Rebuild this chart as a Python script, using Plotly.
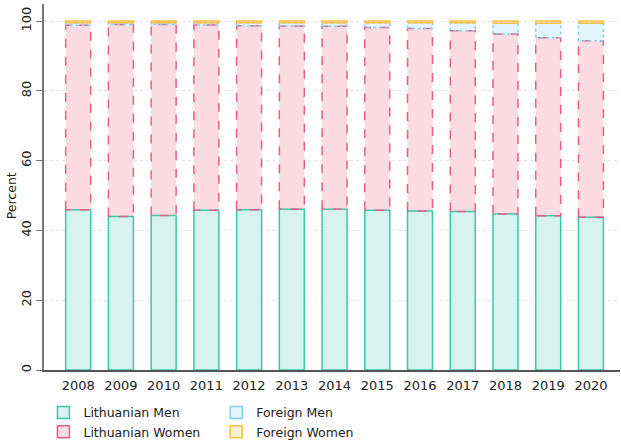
import plotly.graph_objects as go
import numpy as np

years = [2008, 2009, 2010, 2011, 2012, 2013, 2014, 2015, 2016, 2017, 2018, 2019, 2020]
lt_men = [45.9, 44.0, 44.3, 45.8, 45.9, 46.1, 46.1, 45.8, 45.6, 45.4, 44.7, 44.2, 43.8]
lt_women = [52.9, 55.0, 54.7, 53.1, 52.8, 52.5, 52.4, 52.4, 52.3, 51.8, 51.6, 51.0, 50.6]
foreign_men = [0.7, 0.5, 0.5, 0.6, 0.8, 0.9, 1.0, 1.3, 1.6, 2.3, 3.1, 4.2, 5.0]
foreign_women = [0.5, 0.5, 0.5, 0.5, 0.5, 0.5, 0.5, 0.5, 0.5, 0.5, 0.6, 0.6, 0.6]

names = ["Lithuanian Men", "Lithuanian Women", "Foreign Men", "Foreign Women"]
series = [lt_men, lt_women, foreign_men, foreign_women]
fills = ["#d6f3ee", "#fcdbe2", "#e3f5fd", "#fdf0d6"]
borders = ["#3cc6aa", "#e95f84", "#7fd0f2", "#f7bf45"]
dashes = ["solid", "dash", "dot", "solid"]

BAR_W = 0.585
FONT = "DejaVu Sans"

fig = go.Figure()

base = np.zeros(len(years))
for name, vals, fc, bc, dsh in zip(names, series, fills, borders, dashes):
    vals = np.array(vals)
    fig.add_trace(go.Bar(
        x=years, y=vals, base=base, width=BAR_W, name=name,
        marker=dict(color=fc, line=dict(width=0)),
        showlegend=False, hoverinfo="skip",
    ))
    # outline drawn from the same data
    xs, ys = [], []
    for yr, b, v in zip(years, base, vals):
        x0, x1 = yr - BAR_W / 2, yr + BAR_W / 2
        xs += [x0, x0, x1, x1, x0, None]
        ys += [b, b + v, b + v, b, b, None]
    fig.add_trace(go.Scatter(
        x=xs, y=ys, mode="lines", line=dict(color=bc, width=1.5, dash=dsh),
        showlegend=False, hoverinfo="skip",
    ))
    base = base + vals

# legend entries
legend_ids = {"Lithuanian Men": "legend", "Lithuanian Women": "legend",
              "Foreign Men": "legend2", "Foreign Women": "legend2"}
for name, fc, bc in zip(names, fills, borders):
    fig.add_trace(go.Bar(
        x=[None], y=[None], name=name,
        marker=dict(color=fc, line=dict(color=bc, width=1.5)),
        legend=legend_ids[name], showlegend=True,
    ))

fig.add_annotation(
    text="Percent", textangle=-90, xref="paper", yref="y",
    x=-0.056, y=50, xanchor="center", yanchor="middle", showarrow=False,
    font=dict(family=FONT, size=12.5, color="#222"),
)

fig.update_layout(
    width=621, height=443,
    margin=dict(l=44, r=1, t=4, b=73, autoexpand=False),
    paper_bgcolor="white", plot_bgcolor="white",
    barmode="overlay",
    font=dict(family=FONT, size=13, color="#222"),
    xaxis=dict(
        range=[2007.2, 2020.68], tickmode="array", tickvals=years,
        ticktext=[str(y) for y in years],
        showline=True, linecolor="#555", linewidth=1.5,
        ticks="outside", ticklen=3, tickcolor="rgba(0,0,0,0)",
        showgrid=False, zeroline=False, automargin=False,
        tickfont=dict(family=FONT, size=13, color="#222"),
    ),
    yaxis=dict(
        range=[0, 104.9], tickvals=[0, 20, 40, 60, 80, 100],
        showline=True, linecolor="#777", linewidth=1.5,
        ticks="outside", ticklen=6, tickcolor="#777",
        tickangle=-90, automargin=False,
        showgrid=True, gridcolor="#e2e2e2", griddash="dot", gridwidth=1,
        zeroline=False,
        tickfont=dict(family=FONT, size=13, color="#222"),
    ),
    legend=dict(x=-0.001, y=-0.076, xanchor="left", yanchor="top",
                orientation="v", bgcolor="rgba(0,0,0,0)",
                font=dict(family=FONT, size=12.5, color="#222"), tracegroupgap=0),
    legend2=dict(x=0.299, y=-0.076, xanchor="left", yanchor="top",
                 orientation="v", bgcolor="rgba(0,0,0,0)",
                 font=dict(family=FONT, size=12.5, color="#222"), tracegroupgap=0),
)

fig.write_html("out.html", config={"displayModeBar": False},
               post_script="document.body.style.margin='0px';")
